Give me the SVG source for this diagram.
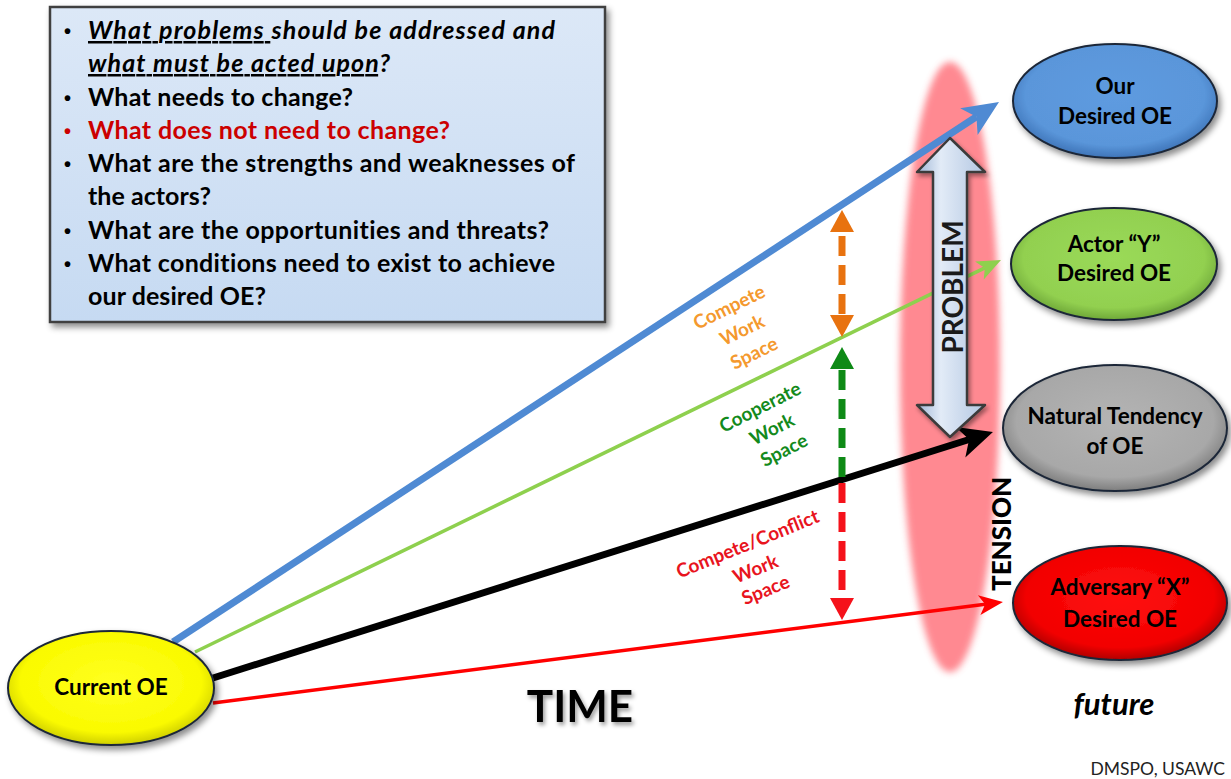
<svg xmlns="http://www.w3.org/2000/svg" width="1231" height="779" viewBox="0 0 1231 779">
<defs>
<style>
.q{font-family:Lato,"Liberation Sans",sans-serif;font-weight:bold;font-size:25px;fill:#000;font-variant-ligatures:none}
.b{font-family:"Liberation Sans",sans-serif;font-weight:bold;font-size:20px;fill:#000}
.node{font-family:Lato,"Liberation Sans",sans-serif;font-weight:bold;font-size:22.5px;text-anchor:middle;fill:#000}
.ws{font-family:Lato,"Liberation Sans",sans-serif;font-weight:bold;font-size:19px;text-anchor:middle}
.ell{stroke:#1c2838;stroke-width:2}
</style>
<filter id="shadow" x="-20%" y="-20%" width="150%" height="150%">
<feDropShadow dx="3" dy="4" stdDeviation="3" flood-color="#000" flood-opacity="0.45"/>
</filter>
<filter id="tshadow" x="-20%" y="-20%" width="150%" height="150%">
<feDropShadow dx="2" dy="3" stdDeviation="2" flood-color="#000" flood-opacity="0.4"/>
</filter>
<filter id="blur" x="-50%" y="-10%" width="200%" height="120%">
<feGaussianBlur stdDeviation="3.5"/>
</filter>
<linearGradient id="boxg" x1="0" y1="0" x2="0" y2="1">
<stop offset="0" stop-color="#DCE8F7"/>
<stop offset="1" stop-color="#C6DAF2"/>
</linearGradient>
<radialGradient id="gBlue" cx="0.5" cy="0.45" r="0.55">
<stop offset="0" stop-color="#5E9BE0"/><stop offset="0.8" stop-color="#5A96DA"/><stop offset="1" stop-color="#3E74B8"/>
</radialGradient>
<radialGradient id="gGreen" cx="0.5" cy="0.45" r="0.55">
<stop offset="0" stop-color="#9ADA58"/><stop offset="0.8" stop-color="#92D050"/><stop offset="1" stop-color="#6FA838"/>
</radialGradient>
<radialGradient id="gGray" cx="0.5" cy="0.45" r="0.55">
<stop offset="0" stop-color="#B4B4B4"/><stop offset="0.8" stop-color="#A8A8A8"/><stop offset="1" stop-color="#7E7E7E"/>
</radialGradient>
<radialGradient id="gRed" cx="0.5" cy="0.45" r="0.55">
<stop offset="0" stop-color="#FF1010"/><stop offset="0.8" stop-color="#F20000"/><stop offset="1" stop-color="#B00000"/>
</radialGradient>
<radialGradient id="gYellow" cx="0.5" cy="0.45" r="0.55">
<stop offset="0" stop-color="#FFFF20"/><stop offset="0.8" stop-color="#FAFA00"/><stop offset="1" stop-color="#CFCF00"/>
</radialGradient>
<linearGradient id="gProb" x1="0" y1="0" x2="1" y2="0">
<stop offset="0" stop-color="#9FB6D6"/><stop offset="0.35" stop-color="#E2EBF7"/><stop offset="1" stop-color="#B3C7E2"/>
</linearGradient>
<marker id="mBlue" markerUnits="userSpaceOnUse" orient="auto" overflow="visible" refX="0" refY="0">
<path d="M-9,-16 L27,0 L-9,16 L0,0 z" fill="#4F8AD3"/>
</marker>
<marker id="mGreen" markerUnits="userSpaceOnUse" orient="auto" overflow="visible" refX="0" refY="0">
<path d="M-6,-10 L18,0 L-6,10 L0,0 z" fill="#8ED04E"/>
</marker>
<marker id="mBlack" markerUnits="userSpaceOnUse" orient="auto" overflow="visible" refX="0" refY="0">
<path d="M-9,-16 L25,0 L-9,16 L0,0 z" fill="#000"/>
</marker>
<marker id="mRed" markerUnits="userSpaceOnUse" orient="auto" overflow="visible" refX="0" refY="0">
<path d="M-6,-10 L18,0 L-6,10 L0,0 z" fill="#F00"/>
</marker>
<marker id="dOrange" markerUnits="userSpaceOnUse" orient="auto-start-reverse" overflow="visible" refX="0" refY="0">
<path d="M0,-12 L22,0 L0,12 z" fill="#E8720F"/>
</marker>
<marker id="dGreen" markerUnits="userSpaceOnUse" orient="auto-start-reverse" overflow="visible" refX="0" refY="0">
<path d="M0,-12 L22,0 L0,12 z" fill="#0E8A16"/>
</marker>
<marker id="dRed" markerUnits="userSpaceOnUse" orient="auto-start-reverse" overflow="visible" refX="0" refY="0">
<path d="M0,-12 L22,0 L0,12 z" fill="#F5121B"/>
</marker>
</defs>

<rect width="1231" height="779" fill="#fff"/>

<!-- tension band -->
<ellipse id="tension-band" cx="950" cy="367" rx="50" ry="305" fill="#FF7079" opacity="0.82" filter="url(#blur)"/>

<!-- question box -->
<g id="questions">
<rect x="50" y="7" width="555" height="315" fill="url(#boxg)" stroke="#404040" stroke-width="2.5" filter="url(#shadow)"/>
<g class="b">
<text x="64" y="38">•</text>
<text x="64" y="105">•</text>
<text x="64" y="138" fill="#CC0000">•</text>
<text x="64" y="171">•</text>
<text x="64" y="238">•</text>
<text x="64" y="271">•</text>
</g>
<g class="q">
<text x="88" y="39" font-style="italic" textLength="467" lengthAdjust="spacing"><tspan text-decoration="underline">What problems </tspan>should be addressed and</text>
<text x="88" y="72" font-style="italic" textLength="302" lengthAdjust="spacing"><tspan text-decoration="underline">what must be acted upon</tspan>?</text>
<text x="88" y="106" textLength="265" lengthAdjust="spacing">What needs to change?</text>
<text x="88" y="139" fill="#CC0000" textLength="362" lengthAdjust="spacing">What does not need to change?</text>
<text x="88" y="172" textLength="487" lengthAdjust="spacing">What are the strengths and weaknesses of</text>
<text x="88" y="205" textLength="123" lengthAdjust="spacing">the actors?</text>
<text x="88" y="239" textLength="461" lengthAdjust="spacing">What are the opportunities and threats?</text>
<text x="88" y="272" textLength="467" lengthAdjust="spacing">What conditions need to exist to achieve</text>
<text x="88" y="305" textLength="178" lengthAdjust="spacing">our desired OE?</text>
</g>
</g>

<!-- connectors -->
<g id="connectors" fill="none">
<line x1="173" y1="642" x2="976.4" y2="116.8" stroke="#4F8AD3" stroke-width="7" marker-end="url(#mBlue)"/>
<line x1="195" y1="652" x2="984.8" y2="267.9" stroke="#8ED04E" stroke-width="3.5" marker-end="url(#mGreen)"/>
<line x1="213" y1="678" x2="969.1" y2="439.5" stroke="#000" stroke-width="7" marker-end="url(#mBlack)"/>
<line x1="213" y1="703" x2="985.1" y2="604.3" stroke="#F00" stroke-width="3.5" marker-end="url(#mRed)"/>
<line x1="842" y1="232" x2="842" y2="315" stroke="#E8720F" stroke-width="7" stroke-dasharray="20 9" stroke-dashoffset="-4" marker-start="url(#dOrange)" marker-end="url(#dOrange)"/>
<line x1="842" y1="477" x2="842" y2="369" stroke="#0E8A16" stroke-width="7" stroke-dasharray="20 9" marker-end="url(#dGreen)"/>
<line x1="842" y1="483" x2="842" y2="598" stroke="#F5121B" stroke-width="7" stroke-dasharray="20 9" marker-end="url(#dRed)"/>
</g>

<!-- problem arrow -->
<g id="problem">
<polygon points="950,138 985,172 967,172 967,405 985,405 950,437 917,405 933,405 933,172 917,172" fill="url(#gProb)" stroke="#3A3A3A" stroke-width="2.5" stroke-linejoin="round" filter="url(#tshadow)"/>
<text transform="translate(952,287) rotate(-90)" text-anchor="middle" dominant-baseline="central" font-family="Lato,'Liberation Sans',sans-serif" font-weight="bold" font-size="28" fill="#1a1a1a">PROBLEM</text>
</g>

<text id="tension-label" transform="translate(1001,534) rotate(-90)" text-anchor="middle" dominant-baseline="central" font-family="Lato,'Liberation Sans',sans-serif" font-weight="900" font-size="26" fill="#000">TENSION</text>

<!-- work space labels -->
<g id="ws-compete" class="ws" fill="#F4992E">
<text transform="translate(732,313) rotate(-26)">Compete</text>
<text transform="translate(745,336) rotate(-26)">Work</text>
<text transform="translate(757,359) rotate(-26)">Space</text>
</g>
<g id="ws-cooperate" class="ws" fill="#138A1C">
<text transform="translate(763,413) rotate(-27)">Cooperate</text>
<text transform="translate(775,435) rotate(-27)">Work</text>
<text transform="translate(787,456) rotate(-27)">Space</text>
</g>
<g id="ws-conflict" class="ws" fill="#E8141E">
<text transform="translate(750,550) rotate(-22)">Compete/Conflict</text>
<text transform="translate(758,575) rotate(-22)">Work</text>
<text transform="translate(768,596) rotate(-22)">Space</text>
</g>

<!-- nodes -->
<g id="node-current">
<ellipse class="ell" cx="111" cy="688" rx="103" ry="57" fill="url(#gYellow)" filter="url(#shadow)"/>
<text class="node" x="111" y="695">Current OE</text>
</g>
<g id="node-our">
<ellipse class="ell" cx="1115" cy="101" rx="102" ry="57" fill="url(#gBlue)" filter="url(#shadow)"/>
<text class="node" x="1115" y="94">Our</text>
<text class="node" x="1115" y="124">Desired OE</text>
</g>
<g id="node-actor">
<ellipse class="ell" cx="1114" cy="264" rx="103" ry="56" fill="url(#gGreen)" filter="url(#shadow)"/>
<text class="node" x="1114" y="252">Actor “Y”</text>
<text class="node" x="1114" y="281">Desired OE</text>
</g>
<g id="node-natural">
<ellipse class="ell" cx="1115" cy="428" rx="112" ry="63" fill="url(#gGray)" filter="url(#shadow)"/>
<text class="node" x="1115" y="424">Natural Tendency</text>
<text class="node" x="1115" y="454">of OE</text>
</g>
<g id="node-adversary">
<ellipse class="ell" cx="1120" cy="603" rx="107" ry="57" fill="url(#gRed)" filter="url(#shadow)"/>
<text class="node" x="1120" y="595" fill="#FFFF00">Adversary “X”</text>
<text class="node" x="1120" y="627" fill="#FFFF00">Desired OE</text>
</g>

<text id="time" x="580" y="722" text-anchor="middle" font-family="Lato,'Liberation Sans',sans-serif" font-weight="bold" font-size="44" fill="#000" filter="url(#tshadow)">TIME</text>
<text id="future" x="1114" y="715" text-anchor="middle" font-family="Lato,'Liberation Sans',sans-serif" font-weight="bold" font-style="italic" font-size="31" fill="#000">future</text>
<text id="credit" x="1225" y="775" text-anchor="end" font-family="Lato,'Liberation Sans',sans-serif" font-size="17.5" fill="#222">DMSPO, USAWC</text>
</svg>
